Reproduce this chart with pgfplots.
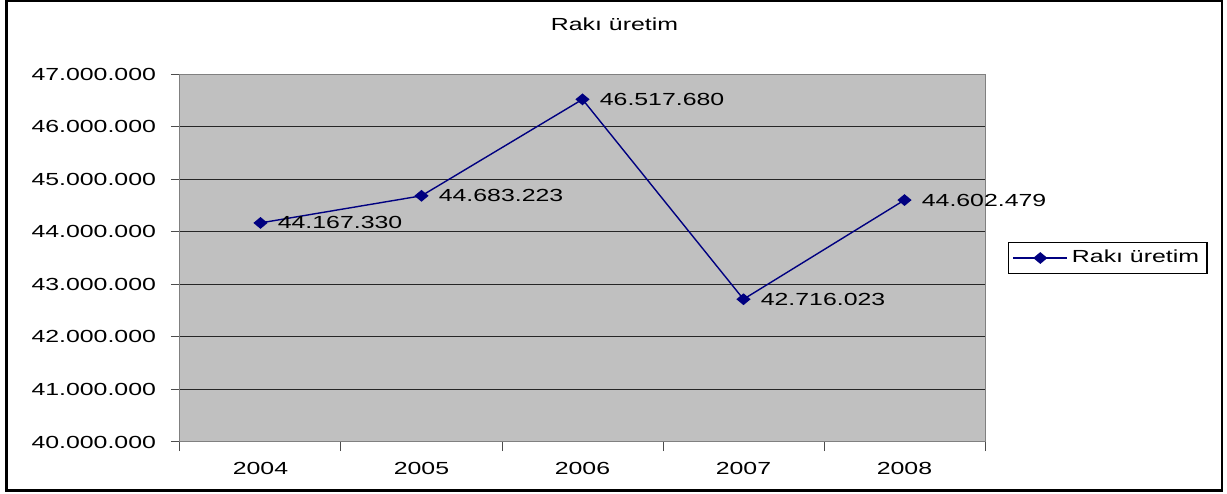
\documentclass[border=0pt]{standalone}
\usepackage{fontspec}
\setmainfont{Liberation Sans}[FakeStretch=1.42]
\usepackage{pgfplots}
\usepackage{pgfplotstable}
\pgfplotsset{compat=1.18}
\newcommand\cf{\fontsize{8.75}{10}\selectfont}
\definecolor{plotgray}{RGB}{192,192,192}
\definecolor{navy}{RGB}{0,0,128}
\pgfplotstableread{
x y label
0 44167330 44.167.330
1 44683223 44.683.223
2 46517680 46.517.680
3 42716023 42.716.023
4 44602479 44.602.479
}\datatab
\begin{document}
\begin{tikzpicture}
\useasboundingbox (0,0) rectangle (613.5pt,246.5pt);
\draw[line width=1.2pt] (3.25pt,1.2pt) rectangle (611pt,246pt);
\begin{axis}[
  at={(90pt,25.5pt)}, anchor=south west,
  scale only axis, width=402.5pt, height=184pt,
  xmin=-0.5, xmax=4.5, ymin=40000000, ymax=47000000,
  ytick={40000000,41000000,...,47000000},
  scaled y ticks=false,
  yticklabel style={font=\cf, xshift=-4pt, /pgf/number format/fixed, /pgf/number format/precision=0, /pgf/number format/1000 sep={.}, /pgf/number format/assume math mode=true},
  xtick={-0.5,0.5,1.5,2.5,3.5,4.5},
  xticklabels={2004,2005,2006,2007,2008},
  x tick label as interval,
  xticklabel style={font=\cf, yshift=-2pt},
  tick align=outside,
  major tick length=4.5pt,
  every tick/.style={black!70, line width=0.5pt},
  xtick pos=bottom, ytick pos=left,
  ymajorgrids, xmajorgrids=false,
  major grid style={black!85, line width=0.5pt},
  axis line style={gray, line width=0.5pt},
  axis background/.style={fill=plotgray},
  title={Rakı üretim},
  title style={font=\cf, at={(0.5,1)}, anchor=center, yshift=19pt, xshift=16pt},
  legend style={at={(1,0.5)}, anchor=west, xshift=11.5pt, draw=black, fill=white, font=\cf, line width=0.6pt, inner sep=2pt},
  legend image code/.code={\draw[#1, mark repeat=2, mark phase=2] plot coordinates {(0pt,0pt) (13.5pt,0pt) (27pt,0pt)};},
  nodes near coords,
  point meta=explicit symbolic,
  every node near coord/.append style={font=\cf, anchor=west, xshift=5pt, yshift=0pt, text=black},
]
\addplot[navy, line width=0.7pt, mark=diamond*, mark size=2.5pt, mark options={fill=navy, draw=navy, xscale=1.6}] table[x=x, y=y, meta=label] {\datatab};
\addlegendentry{Rakı üretim}
\end{axis}
\end{tikzpicture}
\end{document}
